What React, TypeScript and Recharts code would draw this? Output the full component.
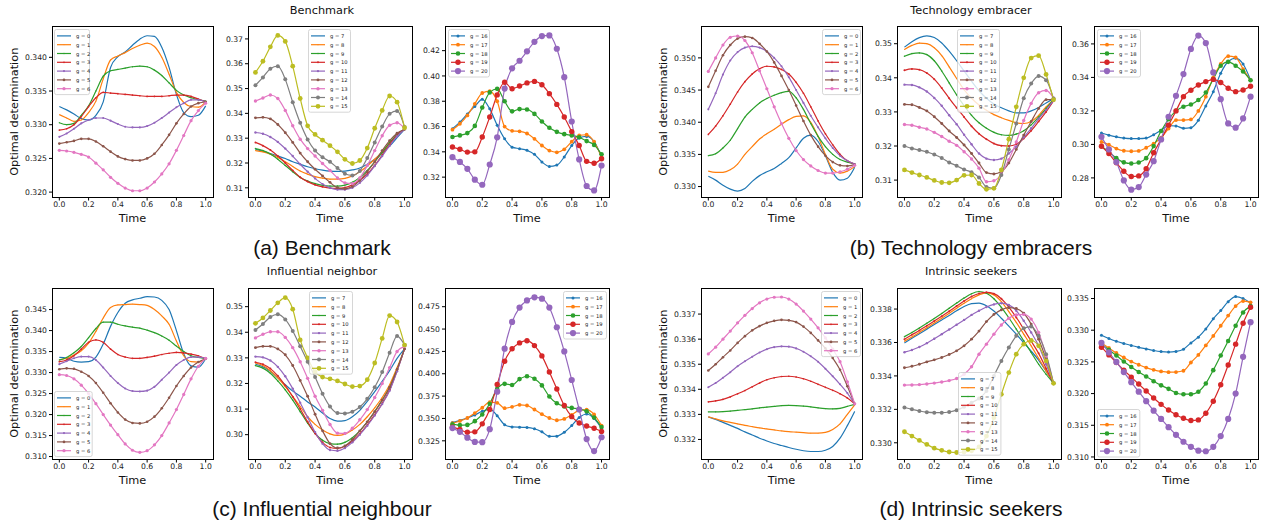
import React from 'react';
import { LineChart, Line, XAxis, YAxis } from 'recharts';

// matplotlib tab10
const COLORS = ['#1f77b4', '#ff7f0e', '#2ca02c', '#d62728', '#9467bd', '#8c564b', '#e377c2', '#7f7f7f', '#bcbd22'];

const TIME = [0, 0.05, 0.1, 0.15, 0.2, 0.25, 0.3, 0.35, 0.4, 0.45, 0.5, 0.55, 0.6, 0.65, 0.7, 0.75, 0.8, 0.85, 0.9, 0.95, 1];
const X_TICKS = [0, 0.2, 0.4, 0.6, 0.8, 1];

// (a) Benchmark — g = 0..6, 7..15, 16..20
const benchLow = [
  [0.3327, 0.3322, 0.3316, 0.3309, 0.3307, 0.3314, 0.3334, 0.3385, 0.3401, 0.3408, 0.3418, 0.3427, 0.3432, 0.3431, 0.3415, 0.3385, 0.3345, 0.3318, 0.3312, 0.3314, 0.3328],
  [0.3315, 0.3310, 0.3305, 0.3307, 0.3318, 0.3335, 0.3368, 0.3396, 0.3402, 0.3407, 0.3413, 0.3418, 0.3421, 0.3416, 0.3400, 0.3375, 0.3348, 0.3333, 0.3327, 0.3326, 0.3334],
  [0.3303, 0.3300, 0.3302, 0.3314, 0.3328, 0.3350, 0.3372, 0.3380, 0.3382, 0.3384, 0.3386, 0.3387, 0.3386, 0.3381, 0.3373, 0.3362, 0.3351, 0.3344, 0.3340, 0.3337, 0.3335],
  [0.3292, 0.3294, 0.3300, 0.3312, 0.3327, 0.3340, 0.3348, 0.3347, 0.3346, 0.3345, 0.3344, 0.3343, 0.3342, 0.3342, 0.3342, 0.3343, 0.3344, 0.3344, 0.3342, 0.3338, 0.3334],
  [0.3282, 0.3287, 0.3294, 0.3302, 0.3307, 0.3310, 0.3310, 0.3306, 0.3301, 0.3297, 0.3296, 0.3296, 0.3298, 0.3303, 0.3310, 0.3318, 0.3326, 0.3332, 0.3337, 0.3337, 0.3334],
  [0.3272, 0.3274, 0.3276, 0.3279, 0.3279, 0.3275, 0.3268, 0.3260, 0.3253, 0.3249, 0.3247, 0.3247, 0.3250, 0.3257, 0.3270, 0.3285, 0.3302, 0.3316, 0.3327, 0.3332, 0.3334],
  [0.3262, 0.3261, 0.3259, 0.3256, 0.3252, 0.3243, 0.3233, 0.3222, 0.3213, 0.3206, 0.3202, 0.3202, 0.3206, 0.3215, 0.3227, 0.3242, 0.3262, 0.3284, 0.3306, 0.3321, 0.3332],
];
const benchMid = [
  [0.3255, 0.3248, 0.3238, 0.3228, 0.3218, 0.3205, 0.3195, 0.3185, 0.3177, 0.3171, 0.3167, 0.3166, 0.3167, 0.3172, 0.3180, 0.3195, 0.3215, 0.3240, 0.3268, 0.3302, 0.3336],
  [0.3250, 0.3245, 0.3236, 0.3222, 0.3205, 0.3186, 0.3168, 0.3155, 0.3145, 0.3139, 0.3135, 0.3135, 0.3138, 0.3148, 0.3165, 0.3188, 0.3215, 0.3245, 0.3280, 0.3312, 0.3336],
  [0.3258, 0.3250, 0.3236, 0.3215, 0.3190, 0.3165, 0.3142, 0.3127, 0.3117, 0.3110, 0.3107, 0.3107, 0.3111, 0.3122, 0.3142, 0.3170, 0.3205, 0.3243, 0.3282, 0.3315, 0.3336],
  [0.3283, 0.3270, 0.3252, 0.3228, 0.3200, 0.3170, 0.3143, 0.3125, 0.3112, 0.3104, 0.3099, 0.3098, 0.3101, 0.3112, 0.3130, 0.3155, 0.3190, 0.3232, 0.3275, 0.3312, 0.3336],
  [0.3323, 0.3318, 0.3305, 0.3285, 0.3258, 0.3228, 0.3195, 0.3165, 0.3138, 0.3115, 0.3100, 0.3093, 0.3093, 0.3100, 0.3120, 0.3150, 0.3188, 0.3228, 0.3270, 0.3308, 0.3336],
  [0.3382, 0.3384, 0.3378, 0.3355, 0.3322, 0.3283, 0.3240, 0.3205, 0.3175, 0.3148, 0.3122, 0.3100, 0.3096, 0.3105, 0.3130, 0.3165, 0.3205, 0.3250, 0.3290, 0.3320, 0.3336],
  [0.3450, 0.3462, 0.3474, 0.3460, 0.3412, 0.3350, 0.3296, 0.3258, 0.3228, 0.3198, 0.3170, 0.3140, 0.3120, 0.3117, 0.3140, 0.3190, 0.3250, 0.3310, 0.3352, 0.3362, 0.3340],
  [0.3513, 0.3545, 0.3580, 0.3590, 0.3537, 0.3445, 0.3362, 0.3295, 0.3250, 0.3223, 0.3205, 0.3180, 0.3157, 0.3150, 0.3168, 0.3220, 0.3283, 0.3347, 0.3398, 0.3410, 0.3345],
  [0.3565, 0.3610, 0.3668, 0.3714, 0.3690, 0.3590, 0.3460, 0.3350, 0.3315, 0.3292, 0.3270, 0.3245, 0.3215, 0.3198, 0.3210, 0.3260, 0.3340, 0.3412, 0.3470, 0.3445, 0.3342],
];
const benchHigh = [
  [0.3583, 0.3635, 0.3700, 0.3759, 0.3815, 0.3740, 0.3610, 0.3503, 0.3437, 0.3425, 0.3412, 0.3380, 0.3320, 0.3285, 0.3295, 0.3360, 0.3450, 0.3510, 0.3522, 0.3480, 0.3360],
  [0.3575, 0.3622, 0.3688, 0.3780, 0.3865, 0.3880, 0.3800, 0.3600, 0.3566, 0.3562, 0.3545, 0.3503, 0.3450, 0.3410, 0.3396, 0.3420, 0.3480, 0.3530, 0.3535, 0.3480, 0.3358],
  [0.3517, 0.3530, 0.3548, 0.3605, 0.3750, 0.3870, 0.3898, 0.3800, 0.3720, 0.3738, 0.3735, 0.3700, 0.3640, 0.3590, 0.3558, 0.3540, 0.3530, 0.3515, 0.3485, 0.3455, 0.3380],
  [0.3438, 0.3420, 0.3398, 0.3400, 0.3517, 0.3675, 0.3850, 0.3950, 0.3899, 0.3920, 0.3945, 0.3957, 0.3930, 0.3860, 0.3775, 0.3675, 0.3560, 0.3450, 0.3325, 0.3310, 0.3345],
  [0.3358, 0.3320, 0.3266, 0.3180, 0.3140, 0.3300, 0.3515, 0.3900, 0.4060, 0.4120, 0.4195, 0.4270, 0.4315, 0.4320, 0.4215, 0.3990, 0.3640, 0.3340, 0.3130, 0.3095, 0.3292],
];

// (b) Technology embracers
const techLow = [
  [0.3316, 0.3310, 0.3302, 0.3296, 0.3293, 0.3297, 0.3308, 0.3317, 0.3323, 0.3328, 0.3336, 0.3345, 0.3360, 0.3375, 0.3380, 0.3370, 0.3348, 0.3322, 0.3310, 0.3313, 0.3330],
  [0.3324, 0.3322, 0.3322, 0.3326, 0.3335, 0.3350, 0.3362, 0.3374, 0.3382, 0.3389, 0.3397, 0.3404, 0.3409, 0.3410, 0.3400, 0.3378, 0.3350, 0.3327, 0.3321, 0.3324, 0.3331],
  [0.3348, 0.3351, 0.3360, 0.3372, 0.3390, 0.3408, 0.3420, 0.3430, 0.3437, 0.3442, 0.3446, 0.3448, 0.3438, 0.3420, 0.3398, 0.3378, 0.3362, 0.3350, 0.3342, 0.3338, 0.3335],
  [0.3381, 0.3394, 0.3410, 0.3428, 0.3447, 0.3463, 0.3475, 0.3483, 0.3487, 0.3486, 0.3482, 0.3475, 0.3462, 0.3445, 0.3424, 0.3402, 0.3382, 0.3365, 0.3350, 0.3340, 0.3335],
  [0.3420, 0.3445, 0.3474, 0.3496, 0.3509, 0.3516, 0.3518, 0.3516, 0.3510, 0.3500, 0.3487, 0.3470, 0.3450, 0.3430, 0.3410, 0.3392, 0.3375, 0.3360, 0.3348, 0.3340, 0.3335],
  [0.3455, 0.3480, 0.3504, 0.3520, 0.3530, 0.3533, 0.3531, 0.3522, 0.3510, 0.3493, 0.3472, 0.3450, 0.3426, 0.3402, 0.3380, 0.3362, 0.3348, 0.3338, 0.3333, 0.3332, 0.3334],
  [0.3479, 0.3500, 0.3520, 0.3532, 0.3534, 0.3527, 0.3508, 0.3480, 0.3452, 0.3424, 0.3398, 0.3375, 0.3356, 0.3342, 0.3332, 0.3325, 0.3321, 0.3321, 0.3323, 0.3327, 0.3333],
];
const techMid = [
  [0.3490, 0.3506, 0.3518, 0.3523, 0.3518, 0.3502, 0.3478, 0.3450, 0.3420, 0.3390, 0.3362, 0.3340, 0.3323, 0.3312, 0.3303, 0.3297, 0.3297, 0.3303, 0.3313, 0.3326, 0.3339],
  [0.3483, 0.3495, 0.3502, 0.3500, 0.3488, 0.3465, 0.3432, 0.3398, 0.3365, 0.3340, 0.3320, 0.3305, 0.3292, 0.3283, 0.3275, 0.3268, 0.3266, 0.3272, 0.3290, 0.3315, 0.3336],
  [0.3463, 0.3471, 0.3473, 0.3468, 0.3450, 0.3420, 0.3385, 0.3350, 0.3318, 0.3290, 0.3268, 0.3252, 0.3240, 0.3233, 0.3231, 0.3235, 0.3245, 0.3262, 0.3285, 0.3310, 0.3336],
  [0.3422, 0.3426, 0.3424, 0.3414, 0.3396, 0.3370, 0.3340, 0.3312, 0.3285, 0.3258, 0.3236, 0.3220, 0.3207, 0.3201, 0.3200, 0.3205, 0.3222, 0.3245, 0.3272, 0.3300, 0.3332],
  [0.3380, 0.3379, 0.3372, 0.3360, 0.3341, 0.3318, 0.3290, 0.3264, 0.3233, 0.3205, 0.3178, 0.3163, 0.3159, 0.3163, 0.3178, 0.3198, 0.3225, 0.3252, 0.3280, 0.3306, 0.3333],
  [0.3322, 0.3321, 0.3313, 0.3303, 0.3286, 0.3266, 0.3244, 0.3225, 0.3203, 0.3178, 0.3150, 0.3122, 0.3118, 0.3125, 0.3150, 0.3190, 0.3232, 0.3272, 0.3310, 0.3336, 0.3337],
  [0.3263, 0.3261, 0.3255, 0.3250, 0.3240, 0.3228, 0.3214, 0.3202, 0.3183, 0.3162, 0.3135, 0.3095, 0.3098, 0.3118, 0.3160, 0.3212, 0.3275, 0.3325, 0.3356, 0.3363, 0.3340],
  [0.3200, 0.3193, 0.3188, 0.3183, 0.3175, 0.3165, 0.3152, 0.3142, 0.3131, 0.3123, 0.3108, 0.3080, 0.3076, 0.3115, 0.3190, 0.3266, 0.3340, 0.3383, 0.3405, 0.3393, 0.3339],
  [0.3130, 0.3122, 0.3115, 0.3108, 0.3099, 0.3093, 0.3092, 0.3100, 0.3114, 0.3115, 0.3090, 0.3073, 0.3076, 0.3130, 0.3220, 0.3315, 0.3400, 0.3458, 0.3465, 0.3410, 0.3336],
];
const techHigh = [
  [0.3068, 0.3055, 0.3045, 0.3038, 0.3035, 0.3035, 0.3038, 0.3058, 0.3085, 0.3112, 0.3110, 0.3096, 0.3100, 0.3144, 0.3230, 0.3315, 0.3425, 0.3495, 0.3515, 0.3480, 0.3385],
  [0.3015, 0.2998, 0.2975, 0.2962, 0.2959, 0.2961, 0.2980, 0.3005, 0.3040, 0.3095, 0.3145, 0.3145, 0.3149, 0.3200, 0.3285, 0.3400, 0.3480, 0.3527, 0.3520, 0.3450, 0.3383],
  [0.2989, 0.2955, 0.2918, 0.2893, 0.2886, 0.2892, 0.2918, 0.2990, 0.3080, 0.3150, 0.3200, 0.3225, 0.3238, 0.3265, 0.3310, 0.3390, 0.3470, 0.3493, 0.3470, 0.3435, 0.3383],
  [0.2989, 0.2945, 0.2890, 0.2840, 0.2808, 0.2812, 0.2855, 0.2950, 0.3030, 0.3115, 0.3200, 0.3285, 0.3323, 0.3355, 0.3375, 0.3388, 0.3370, 0.3335, 0.3315, 0.3325, 0.3347],
  [0.3045, 0.2970, 0.2895, 0.2785, 0.2730, 0.2745, 0.2820, 0.2900, 0.3030, 0.3165, 0.3290, 0.3420, 0.3570, 0.3650, 0.3605, 0.3430, 0.3270, 0.3125, 0.3100, 0.3155, 0.3285],
];

// (c) Influential neighbour
const inflLow = [
  [0.3336, 0.3334, 0.3327, 0.3325, 0.3326, 0.3337, 0.3368, 0.3410, 0.3443, 0.3465, 0.3473, 0.3477, 0.3481, 0.3480, 0.3472, 0.3450, 0.3400, 0.3345, 0.3316, 0.3313, 0.3333],
  [0.3330, 0.3334, 0.3342, 0.3352, 0.3370, 0.3398, 0.3430, 0.3455, 0.3461, 0.3462, 0.3463, 0.3462, 0.3460, 0.3450, 0.3435, 0.3415, 0.3375, 0.3340, 0.3326, 0.3325, 0.3333],
  [0.3330, 0.3336, 0.3347, 0.3362, 0.3383, 0.3405, 0.3420, 0.3420, 0.3415, 0.3411, 0.3408, 0.3406, 0.3401, 0.3395, 0.3387, 0.3377, 0.3363, 0.3350, 0.3340, 0.3336, 0.3333],
  [0.3326, 0.3330, 0.3340, 0.3356, 0.3372, 0.3378, 0.3372, 0.3356, 0.3343, 0.3337, 0.3334, 0.3334, 0.3336, 0.3339, 0.3343, 0.3346, 0.3348, 0.3347, 0.3344, 0.3340, 0.3333],
  [0.3320, 0.3327, 0.3334, 0.3338, 0.3338, 0.3330, 0.3312, 0.3292, 0.3275, 0.3262, 0.3256, 0.3255, 0.3257, 0.3266, 0.3283, 0.3300, 0.3318, 0.3330, 0.3337, 0.3337, 0.3334],
  [0.3308, 0.3310, 0.3309, 0.3302, 0.3292, 0.3275, 0.3252, 0.3227, 0.3205, 0.3188, 0.3180, 0.3179, 0.3183, 0.3195, 0.3215, 0.3240, 0.3268, 0.3292, 0.3312, 0.3325, 0.3333],
  [0.3295, 0.3293, 0.3285, 0.3270, 0.3250, 0.3226, 0.3200, 0.3175, 0.3152, 0.3130, 0.3115, 0.3110, 0.3114, 0.3128, 0.3150, 0.3180, 0.3212, 0.3248, 0.3285, 0.3315, 0.3334],
];
const inflMid = [
  [0.3275, 0.3265, 0.3248, 0.3222, 0.3195, 0.3170, 0.3150, 0.3128, 0.3108, 0.3085, 0.3063, 0.3053, 0.3055, 0.3070, 0.3095, 0.3130, 0.3168, 0.3208, 0.3250, 0.3298, 0.3335],
  [0.3280, 0.3270, 0.3250, 0.3222, 0.3188, 0.3150, 0.3110, 0.3070, 0.3040, 0.3018, 0.3003, 0.2997, 0.3002, 0.3018, 0.3040, 0.3070, 0.3105, 0.3145, 0.3195, 0.3262, 0.3335],
  [0.3270, 0.3260, 0.3240, 0.3210, 0.3175, 0.3135, 0.3090, 0.3045, 0.3005, 0.2978, 0.2965, 0.2963, 0.2970, 0.2988, 0.3015, 0.3050, 0.3090, 0.3135, 0.3185, 0.3255, 0.3335],
  [0.3283, 0.3275, 0.3258, 0.3230, 0.3192, 0.3148, 0.3100, 0.3050, 0.3005, 0.2970, 0.2950, 0.2946, 0.2955, 0.2975, 0.3003, 0.3038, 0.3078, 0.3122, 0.3175, 0.3250, 0.3335],
  [0.3305, 0.3302, 0.3290, 0.3265, 0.3228, 0.3180, 0.3125, 0.3068, 0.3010, 0.2965, 0.2940, 0.2937, 0.2948, 0.2970, 0.3000, 0.3035, 0.3075, 0.3120, 0.3172, 0.3248, 0.3335],
  [0.3340, 0.3345, 0.3345, 0.3335, 0.3312, 0.3270, 0.3212, 0.3150, 0.3080, 0.3015, 0.2965, 0.2948, 0.2956, 0.2980, 0.3015, 0.3050, 0.3090, 0.3135, 0.3185, 0.3255, 0.3335],
  [0.3378, 0.3392, 0.3402, 0.3402, 0.3380, 0.3340, 0.3285, 0.3220, 0.3150, 0.3095, 0.3040, 0.3006, 0.3005, 0.3025, 0.3058, 0.3098, 0.3145, 0.3200, 0.3262, 0.3325, 0.3345],
  [0.3409, 0.3432, 0.3460, 0.3470, 0.3450, 0.3405, 0.3345, 0.3285, 0.3225, 0.3160, 0.3110, 0.3085, 0.3083, 0.3090, 0.3108, 0.3140, 0.3185, 0.3245, 0.3320, 0.3385, 0.3350],
  [0.3435, 0.3456, 0.3485, 0.3515, 0.3535, 0.3490, 0.3370, 0.3300, 0.3245, 0.3225, 0.3218, 0.3210, 0.3198, 0.3188, 0.3190, 0.3215, 0.3280, 0.3376, 0.3465, 0.3440, 0.3350],
];
const inflHigh = [
  [0.3455, 0.3478, 0.3505, 0.3540, 0.3580, 0.3605, 0.3530, 0.3430, 0.3405, 0.3402, 0.3400, 0.3385, 0.3350, 0.3300, 0.3302, 0.3345, 0.3420, 0.3510, 0.3550, 0.3500, 0.3390],
  [0.3447, 0.3472, 0.3505, 0.3560, 0.3620, 0.3682, 0.3675, 0.3615, 0.3630, 0.3652, 0.3645, 0.3600, 0.3548, 0.3505, 0.3480, 0.3495, 0.3540, 0.3590, 0.3598, 0.3545, 0.3420],
  [0.3436, 0.3425, 0.3428, 0.3470, 0.3545, 0.3665, 0.3830, 0.3887, 0.3875, 0.3940, 0.3972, 0.3945, 0.3870, 0.3745, 0.3670, 0.3635, 0.3618, 0.3605, 0.3580, 0.3510, 0.3405],
  [0.3403, 0.3377, 0.3345, 0.3350, 0.3440, 0.3600, 0.3880, 0.4140, 0.4280, 0.4345, 0.4370, 0.4315, 0.4200, 0.4020, 0.3830, 0.3645, 0.3520, 0.3450, 0.3415, 0.3390, 0.3355],
  [0.3392, 0.3350, 0.3285, 0.3238, 0.3235, 0.3380, 0.3800, 0.4280, 0.4580, 0.4740, 0.4820, 0.4855, 0.4840, 0.4740, 0.4520, 0.4250, 0.3930, 0.3600, 0.3270, 0.3135, 0.3290],
];

// (d) Intrinsic seekers
const intrLow = [
  [0.33290, 0.33280, 0.33268, 0.33256, 0.33244, 0.33230, 0.33218, 0.33205, 0.33194, 0.33184, 0.33176, 0.33168, 0.33161, 0.33155, 0.33152, 0.33152, 0.33157, 0.33172, 0.33205, 0.33255, 0.33312],
  [0.33290, 0.33282, 0.33274, 0.33268, 0.33262, 0.33256, 0.33251, 0.33246, 0.33242, 0.33238, 0.33234, 0.33231, 0.33229, 0.33227, 0.33225, 0.33225, 0.33228, 0.33240, 0.33262, 0.33300, 0.33338],
  [0.33310, 0.33310, 0.33311, 0.33313, 0.33316, 0.33319, 0.33322, 0.33326, 0.33329, 0.33332, 0.33335, 0.33336, 0.33335, 0.33333, 0.33330, 0.33326, 0.33323, 0.33322, 0.33324, 0.33332, 0.33340],
  [0.33350, 0.33354, 0.33360, 0.33370, 0.33382, 0.33395, 0.33410, 0.33425, 0.33438, 0.33446, 0.33451, 0.33452, 0.33449, 0.33442, 0.33432, 0.33420, 0.33408, 0.33396, 0.33382, 0.33365, 0.33342],
  [0.33408, 0.33425, 0.33446, 0.33468, 0.33492, 0.33512, 0.33530, 0.33547, 0.33560, 0.33568, 0.33571, 0.33570, 0.33563, 0.33550, 0.33532, 0.33510, 0.33482, 0.33452, 0.33420, 0.33385, 0.33342],
  [0.33475, 0.33500, 0.33528, 0.33555, 0.33585, 0.33612, 0.33635, 0.33652, 0.33665, 0.33673, 0.33677, 0.33675, 0.33668, 0.33650, 0.33625, 0.33595, 0.33563, 0.33525, 0.33478, 0.33412, 0.33342],
  [0.33541, 0.33568, 0.33600, 0.33632, 0.33665, 0.33695, 0.33722, 0.33745, 0.33760, 0.33767, 0.33768, 0.33760, 0.33740, 0.33712, 0.33680, 0.33645, 0.33605, 0.33560, 0.33510, 0.33430, 0.33342],
];
const intrMid = [
  [0.33597, 0.33625, 0.33652, 0.33680, 0.33708, 0.33735, 0.33762, 0.33790, 0.33815, 0.33832, 0.33836, 0.33820, 0.33788, 0.33745, 0.33698, 0.33650, 0.33598, 0.33548, 0.33495, 0.33428, 0.33356],
  [0.33608, 0.33633, 0.33660, 0.33688, 0.33716, 0.33745, 0.33775, 0.33805, 0.33835, 0.33862, 0.33885, 0.33897, 0.33885, 0.33845, 0.33785, 0.33720, 0.33650, 0.33580, 0.33505, 0.33430, 0.33356],
  [0.33635, 0.33660, 0.33687, 0.33715, 0.33744, 0.33774, 0.33805, 0.33836, 0.33866, 0.33892, 0.33905, 0.33895, 0.33862, 0.33810, 0.33748, 0.33680, 0.33610, 0.33540, 0.33470, 0.33410, 0.33356],
  [0.33620, 0.33646, 0.33672, 0.33700, 0.33728, 0.33757, 0.33787, 0.33818, 0.33848, 0.33875, 0.33893, 0.33900, 0.33892, 0.33862, 0.33812, 0.33750, 0.33680, 0.33608, 0.33535, 0.33445, 0.33356],
  [0.33542, 0.33555, 0.33573, 0.33596, 0.33622, 0.33650, 0.33678, 0.33706, 0.33735, 0.33765, 0.33790, 0.33812, 0.33828, 0.33835, 0.33825, 0.33790, 0.33730, 0.33660, 0.33580, 0.33470, 0.33356],
  [0.33449, 0.33458, 0.33470, 0.33484, 0.33496, 0.33510, 0.33528, 0.33550, 0.33580, 0.33620, 0.33668, 0.33725, 0.33768, 0.33795, 0.33808, 0.33803, 0.33775, 0.33710, 0.33620, 0.33500, 0.33356],
  [0.33345, 0.33346, 0.33348, 0.33352, 0.33357, 0.33364, 0.33372, 0.33385, 0.33410, 0.33455, 0.33530, 0.33590, 0.33650, 0.33705, 0.33745, 0.33765, 0.33768, 0.33740, 0.33660, 0.33521, 0.33356],
  [0.33211, 0.33200, 0.33190, 0.33183, 0.33180, 0.33180, 0.33184, 0.33195, 0.33215, 0.33240, 0.33265, 0.33310, 0.33400, 0.33490, 0.33570, 0.33640, 0.33685, 0.33695, 0.33640, 0.33530, 0.33356],
  [0.33066, 0.33040, 0.33014, 0.32990, 0.32968, 0.32955, 0.32945, 0.32942, 0.32945, 0.32952, 0.32975, 0.33040, 0.33150, 0.33290, 0.33420, 0.33530, 0.33590, 0.33612, 0.33580, 0.33490, 0.33356],
];
const intrHigh = [
  [0.32921, 0.32870, 0.32825, 0.32790, 0.32758, 0.32730, 0.32705, 0.32680, 0.32662, 0.32655, 0.32665, 0.32700, 0.32800, 0.32890, 0.33020, 0.33180, 0.33310, 0.33450, 0.33530, 0.33500, 0.33430],
  [0.32800, 0.32720, 0.32640, 0.32570, 0.32505, 0.32455, 0.32410, 0.32375, 0.32350, 0.32337, 0.32340, 0.32360, 0.32490, 0.32610, 0.32760, 0.32910, 0.33070, 0.33230, 0.33380, 0.33460, 0.33440],
  [0.32780, 0.32690, 0.32600, 0.32505, 0.32420, 0.32340, 0.32270, 0.32195, 0.32130, 0.32075, 0.32010, 0.31990, 0.31990, 0.32030, 0.32160, 0.32370, 0.32600, 0.32830, 0.33070, 0.33280, 0.33380],
  [0.32732, 0.32610, 0.32490, 0.32370, 0.32260, 0.32150, 0.32040, 0.31930, 0.31830, 0.31740, 0.31665, 0.31610, 0.31575, 0.31585, 0.31690, 0.31880, 0.32140, 0.32450, 0.32780, 0.33110, 0.33363],
  [0.32800, 0.32650, 0.32500, 0.32340, 0.32180, 0.32030, 0.31880, 0.31730, 0.31600, 0.31470, 0.31350, 0.31240, 0.31160, 0.31100, 0.31090, 0.31160, 0.31330, 0.31600, 0.32000, 0.32580, 0.33126],
];

const Y_LOW_TICKS_A = [0.320, 0.325, 0.330, 0.335, 0.340];
const Y_MID_TICKS_A = [0.31, 0.32, 0.33, 0.34, 0.35, 0.36, 0.37];
const Y_HIGH_TICKS_A = [0.32, 0.34, 0.36, 0.38, 0.40, 0.42];
const Y_LOW_TICKS_B = [0.330, 0.335, 0.340, 0.345, 0.350];
const Y_MID_TICKS_B = [0.31, 0.32, 0.33, 0.34, 0.35];
const Y_HIGH_TICKS_B = [0.28, 0.30, 0.32, 0.34, 0.36];
const Y_LOW_TICKS_C = [0.310, 0.315, 0.320, 0.325, 0.330, 0.335, 0.340, 0.345];
const Y_MID_TICKS_C = [0.30, 0.31, 0.32, 0.33, 0.34, 0.35];
const Y_HIGH_TICKS_C = [0.325, 0.350, 0.375, 0.400, 0.425, 0.450, 0.475];
const Y_LOW_TICKS_D = [0.332, 0.333, 0.334, 0.335, 0.336, 0.337];
const Y_MID_TICKS_D = [0.330, 0.332, 0.334, 0.336, 0.338];
const Y_HIGH_TICKS_D = [0.310, 0.315, 0.320, 0.325, 0.330, 0.335];

// marker radius per series (g=0 and g=7 are plain lines)
const R_LOW = [0, 0.45, 0.65, 0.85, 1.05, 1.3, 1.6];
const R_MID = [0, 0.5, 0.75, 1.0, 1.2, 1.45, 1.7, 2.0, 2.4];
const R_HIGH = [1.5, 1.9, 2.3, 2.7, 3.1];

const FONT = 'DejaVu Sans, sans-serif';
const YW = 45;
const XH = 16;
const TOP1 = 26.5;
const TOP2 = 288.5;
const PH = 170.5;

const subplots = [
  { key: 'a1', x: 52, y: TOP1, w: 161, series: benchLow, g0: 0, dom: [0.3192, 0.3445], ticks: Y_LOW_TICKS_A, dec: 3, radii: R_LOW, lg: [54.3, 29.3, 36] },
  { key: 'a2', x: 248, y: TOP1, w: 164, series: benchMid, g0: 7, dom: [0.3061, 0.3748], ticks: Y_MID_TICKS_A, dec: 2, radii: R_MID, lg: [308, 29.3, 43] },
  { key: 'a3', x: 445, y: TOP1, w: 164, series: benchHigh, g0: 16, dom: [0.3039, 0.4387], ticks: Y_HIGH_TICKS_A, dec: 2, radii: R_HIGH, lg: [448, 29.3, 42] },
  { key: 'b1', x: 701, y: TOP1, w: 161, series: techLow, g0: 0, dom: [0.3283, 0.3548], ticks: Y_LOW_TICKS_B, dec: 3, radii: R_LOW, lg: [822, 29.3, 39] },
  { key: 'b2', x: 897, y: TOP1, w: 164, series: techMid, g0: 7, dom: [0.3049, 0.3549], ticks: Y_MID_TICKS_B, dec: 2, radii: R_MID, lg: [957, 29.3, 43] },
  { key: 'b3', x: 1094, y: TOP1, w: 164, series: techHigh, g0: 16, dom: [0.2683, 0.3701], ticks: Y_HIGH_TICKS_B, dec: 2, radii: R_HIGH, lg: [1097, 29.3, 44] },
  { key: 'c1', x: 52, y: TOP2, w: 161, series: inflLow, g0: 0, dom: [0.3093, 0.3499], ticks: Y_LOW_TICKS_C, dec: 3, radii: R_LOW, lg: [54, 391, 38.7] },
  { key: 'c2', x: 248, y: TOP2, w: 164, series: inflMid, g0: 7, dom: [0.2903, 0.3569], ticks: Y_MID_TICKS_C, dec: 2, radii: R_MID, lg: [308.7, 291, 44] },
  { key: 'c3', x: 445, y: TOP2, w: 164, series: inflHigh, g0: 16, dom: [0.3041, 0.4948], ticks: Y_HIGH_TICKS_C, dec: 3, radii: R_HIGH, lg: [563, 291, 44] },
  { key: 'd1', x: 701, y: TOP2, w: 161, series: intrLow, g0: 0, dom: [0.3312, 0.3380], ticks: Y_LOW_TICKS_D, dec: 3, radii: R_LOW, lg: [821.3, 291, 40] },
  { key: 'd2', x: 897, y: TOP2, w: 164, series: intrMid, g0: 7, dom: [0.3290, 0.3392], ticks: Y_MID_TICKS_D, dec: 3, radii: R_MID, lg: [958.3, 372.3, 43.4] },
  { key: 'd3', x: 1094, y: TOP2, w: 164, series: intrHigh, g0: 16, dom: [0.3096, 0.3365], ticks: Y_HIGH_TICKS_D, dec: 3, radii: R_HIGH, lg: [1096.7, 409, 43.3] },
];

const LegendBox = ({ x, y, w, g0, radii }: any) => {
  const pitch = 8.8;
  const h = radii.length * pitch + 4.5;
  return (
    <svg width={w} height={h} style={{ position: 'absolute', left: x, top: y, overflow: 'visible' }}>
      <rect x={0.5} y={0.5} width={w - 1} height={h - 1} rx={2} fill="#fff" fillOpacity={0.8} stroke="#cccccc" strokeWidth={0.8} />
      {radii.map((r: number, i: number) => {
        const cy = 2.5 + pitch * (i + 0.5);
        const c = COLORS[i];
        return (
          <g key={i}>
            <line x1={3} x2={17} y1={cy} y2={cy} stroke={c} strokeWidth={1.2} />
            {r > 0 && <circle cx={10} cy={cy} r={r} fill={c} />}
            <text x={22} y={cy} fontSize={5.2} dominantBaseline="central" fill="#222" fontFamily={FONT}>{`g = ${g0 + i}`}</text>
          </g>
        );
      })}
    </svg>
  );
};

const Subplot = ({ sp }: any) => {
  const data = TIME.map((t, i) => {
    const row: any = { t };
    sp.series.forEach((s: number[], j: number) => {
      row['g' + (sp.g0 + j)] = s[i];
    });
    return row;
  });
  const tickStyle = { fontSize: 7.7, fill: '#222', fontFamily: FONT };
  return (
    <>
      <div style={{ position: 'absolute', left: sp.x - YW, top: sp.y }}>
        <LineChart width={sp.w + YW} height={PH + XH} data={data} margin={{ top: 0, right: 0, bottom: 0, left: 0 }}>
          <XAxis
            type="number"
            dataKey="t"
            domain={[-0.05, 1.05]}
            ticks={X_TICKS}
            interval={0}
            tickFormatter={(v: number) => v.toFixed(1)}
            axisLine={false}
            tickLine={{ stroke: '#000' }}
            tickSize={3}
            tickMargin={1.5}
            height={XH}
            tick={tickStyle}
            allowDataOverflow
          />
          <YAxis
            type="number"
            domain={sp.dom}
            ticks={sp.ticks}
            interval={0}
            tickFormatter={(v: number) => v.toFixed(sp.dec)}
            axisLine={false}
            tickLine={{ stroke: '#000' }}
            tickSize={3}
            tickMargin={2}
            width={YW}
            tick={tickStyle}
            allowDataOverflow
          />
          {sp.series.map((_: number[], j: number) => {
            const c = COLORS[j];
            const r = sp.radii[j];
            return (
              <Line
                key={j}
                type="monotone"
                dataKey={'g' + (sp.g0 + j)}
                stroke={c}
                strokeWidth={1.2}
                dot={r > 0 ? { r, fill: c, stroke: 'none' } : false}
                activeDot={false}
                isAnimationActive={false}
              />
            );
          })}
        </LineChart>
      </div>
      <div
        style={{
          position: 'absolute',
          left: sp.x - 0.5,
          top: sp.y - 0.5,
          width: sp.w + 1,
          height: PH + 1,
          border: '1px solid #000',
          boxSizing: 'border-box',
          pointerEvents: 'none',
        }}
      />
      <LegendBox x={sp.lg[0]} y={sp.lg[1]} w={sp.lg[2]} g0={sp.g0} radii={sp.radii} />
    </>
  );
};

const App: React.FC = () => {
  const labelStyle = { fontSize: 11.3, fill: '#111', fontFamily: FONT };
  const capStyle = { fontSize: 21, fill: '#111', fontFamily: 'Liberation Sans, Arial, sans-serif' };
  return (
    <div style={{ position: 'absolute', left: 0, top: 0, width: 1267, height: 527, background: '#fff', overflow: 'hidden' }}>
      <svg width={1267} height={527} style={{ position: 'absolute', left: 0, top: 0 }}>
        <text x={322} y={10} textAnchor="middle" dominantBaseline="central" {...labelStyle}>Benchmark</text>
        <text x={971} y={10} textAnchor="middle" dominantBaseline="central" {...labelStyle}>Technology embracer</text>
        <text x={322} y={271} textAnchor="middle" dominantBaseline="central" {...labelStyle}>Influential neighbor</text>
        <text x={971} y={271} textAnchor="middle" dominantBaseline="central" {...labelStyle}>Intrinsic seekers</text>
        {subplots.map((sp) => (
          <text key={sp.key} x={sp.x + sp.w / 2} y={sp.y + PH + 21} textAnchor="middle" dominantBaseline="central" {...labelStyle}>Time</text>
        ))}
        {[[14, TOP1], [663, TOP1], [14, TOP2], [663, TOP2]].map(([x, y], i) => (
          <text key={i} transform={`translate(${x},${y + PH / 2}) rotate(-90)`} textAnchor="middle" dominantBaseline="central" {...labelStyle}>Optimal determination</text>
        ))}
        <text x={322} y={247} textAnchor="middle" dominantBaseline="central" {...capStyle}>(a) Benchmark</text>
        <text x={971} y={247} textAnchor="middle" dominantBaseline="central" {...capStyle}>(b) Technology embracers</text>
        <text x={322} y={508} textAnchor="middle" dominantBaseline="central" {...capStyle}>(c) Influential neighbour</text>
        <text x={971} y={508} textAnchor="middle" dominantBaseline="central" {...capStyle}>(d) Intrinsic seekers</text>
      </svg>
      {subplots.map((sp) => (
        <Subplot key={sp.key} sp={sp} />
      ))}
    </div>
  );
};

export default App;
